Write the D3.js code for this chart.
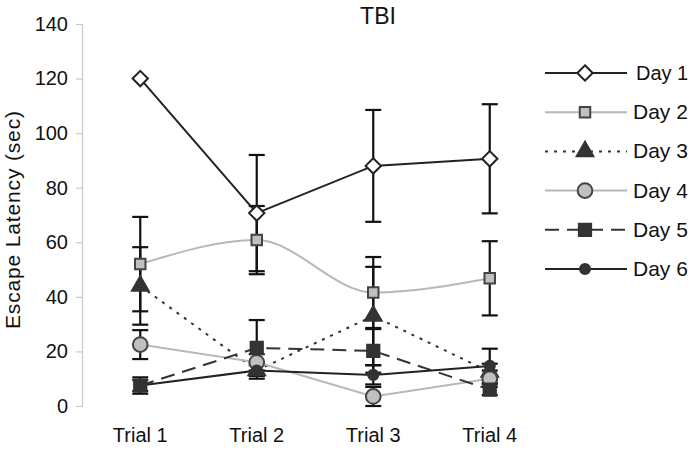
<!DOCTYPE html>
<html>
<head>
<meta charset="utf-8">
<script src="https://cdn.jsdelivr.net/npm/d3@7"></script>
<style>
  body { margin: 0; background: #fff; }
  text { font-family: "Liberation Sans", Arial, sans-serif; fill: #111; }
</style>
</head>
<body>
<script>
// Chart data
var trials = ["Trial 1", "Trial 2", "Trial 3", "Trial 4"];
var days = ["Day 1", "Day 2", "Day 3", "Day 4", "Day 5", "Day 6"];
var yTicks = [0, 20, 40, 60, 80, 100, 120, 140];

var day1 = [120, 70.7, 88, 90.6];
var day2 = [52, 60.8, 41.6, 46.8];
var day3 = [44, 13, 33, 12.5];
var day4 = [22.5, 16, 3.5, 10];
var day5 = [7.5, 21.3, 20.2, 6];
var day6 = [7.5, 13, 11.4, 14.7];

var err1 = [0, 21.3, 20.5, 20];
var err2 = [17.3, 12.5, 13, 13.6];
var err3 = [14.2, 3, 18, 3];
var err4 = [5.3, 3, 3.5, 3];
var err5 = [3, 10.2, 8, 2];
var err6 = [2, 2, 3.5, 6.3];

var values = [day1, day2, day3, day4, day5, day6];
var errors = [err1, err2, err3, err4, err5, err6];

// Styles per series
var styles = [
  {stroke: "#222", dash: null, curve: d3.curveLinear, symbol: d3.symbolDiamond2, size: 150, fill: "#fff", mstroke: "#222"},
  {stroke: "#b8b8b8", dash: null, curve: d3.curveMonotoneX, symbol: d3.symbolSquare, size: 110, fill: "#c0c0c0", mstroke: "#444"},
  {stroke: "#333", dash: "3,6", curve: d3.curveLinear, symbol: d3.symbolTriangle, size: 120, fill: "#333", mstroke: "#333"},
  {stroke: "#b8b8b8", dash: null, curve: d3.curveLinear, symbol: d3.symbolCircle, size: 170, fill: "#c0c0c0", mstroke: "#444"},
  {stroke: "#333", dash: "14,8", curve: d3.curveLinear, symbol: d3.symbolSquare, size: 150, fill: "#333", mstroke: "#333"},
  {stroke: "#222", dash: null, curve: d3.curveLinear, symbol: d3.symbolCircle, size: 80, fill: "#333", mstroke: "#333"}
];

var width = 692, height = 454;
var svg = d3.select("body").append("svg")
  .attr("width", width)
  .attr("height", height);

var x = d3.scaleBand()
  .domain(trials)
  .range([82, 548]);

var y = d3.scaleLinear()
  .domain([0, 140])
  .range([406, 24]);

function cx(i) { return x(trials[i]) + x.bandwidth() / 2; }

// Y axis
var yAxis = svg.append("g")
  .attr("transform", "translate(82,0)")
  .call(d3.axisLeft(y).tickValues(yTicks).tickSize(6).tickPadding(8));
yAxis.select(".domain").attr("stroke", "#c8c8c8").attr("stroke-width", 1.2);
yAxis.selectAll(".tick line").attr("stroke", "#c8c8c8").attr("stroke-width", 1.2);
yAxis.selectAll(".tick text")
  .style("font-family", "Liberation Sans, Arial, sans-serif")
  .style("font-size", "20px")
  .attr("fill", "#111");

// X labels (no axis line)
var xAxis = svg.append("g")
  .attr("transform", "translate(0,406)")
  .call(d3.axisBottom(x).tickSize(0).tickPadding(22));
xAxis.select(".domain").remove();
xAxis.selectAll(".tick text")
  .style("font-family", "Liberation Sans, Arial, sans-serif")
  .style("font-size", "20px")
  .attr("fill", "#111");

// Y axis title
svg.append("text")
  .attr("transform", "translate(20,220) rotate(-90)")
  .attr("text-anchor", "middle")
  .attr("textLength", 218)
  .style("font-size", "21px")
  .text("Escape Latency (sec)");

// Title
svg.append("text")
  .attr("x", 378)
  .attr("y", 24)
  .attr("text-anchor", "middle")
  .style("font-size", "23px")
  .text("TBI");

// Error bars
var capW = 8;
errors.forEach(function(errs, s) {
  var g = svg.append("g").attr("stroke", "#111").attr("stroke-width", 2.2);
  errs.forEach(function(e, i) {
    if (e <= 0) return;
    var v = values[s][i];
    var X = cx(i);
    g.append("line").attr("x1", X).attr("x2", X).attr("y1", y(v - e)).attr("y2", y(v + e));
    g.append("line").attr("x1", X - capW).attr("x2", X + capW).attr("y1", y(v + e)).attr("y2", y(v + e));
    g.append("line").attr("x1", X - capW).attr("x2", X + capW).attr("y1", y(v - e)).attr("y2", y(v - e));
  });
});

// Lines and markers
values.forEach(function(vals, s) {
  var st = styles[s];
  var line = d3.line()
    .x(function(d, i) { return cx(i); })
    .y(function(d) { return y(d); })
    .curve(st.curve);
  svg.append("path")
    .datum(vals)
    .attr("d", line)
    .attr("fill", "none")
    .attr("stroke", st.stroke)
    .attr("stroke-width", 2)
    .attr("stroke-dasharray", st.dash);
});

values.forEach(function(vals, s) {
  var st = styles[s];
  svg.append("g").selectAll("path")
    .data(vals)
    .enter()
    .append("path")
      .attr("transform", function(d, i) { return "translate(" + cx(i) + "," + y(d) + ")"; })
      .attr("d", d3.symbol().type(st.symbol).size(st.size))
      .attr("fill", st.fill)
      .attr("stroke", st.mstroke)
      .attr("stroke-width", 2);
});

// Legend
var legend = svg.append("g");
days.forEach(function(name, s) {
  var st = styles[s];
  var ly = 73 + s * 39.2;
  legend.append("line")
    .attr("x1", 545).attr("x2", 627)
    .attr("y1", ly).attr("y2", ly)
    .attr("stroke", st.stroke)
    .attr("stroke-width", 2)
    .attr("stroke-dasharray", st.dash);
  legend.append("path")
    .attr("transform", "translate(585," + ly + ")")
    .attr("d", d3.symbol().type(st.symbol).size(st.size))
    .attr("fill", st.fill)
    .attr("stroke", st.mstroke)
    .attr("stroke-width", 2);
  legend.append("text")
    .attr("x", s === 0 ? 636 : 633)
    .attr("y", ly + 7)
    .style("font-size", s === 0 ? "20px" : "21px")
    .text(name);
});
</script>
</body>
</html>
